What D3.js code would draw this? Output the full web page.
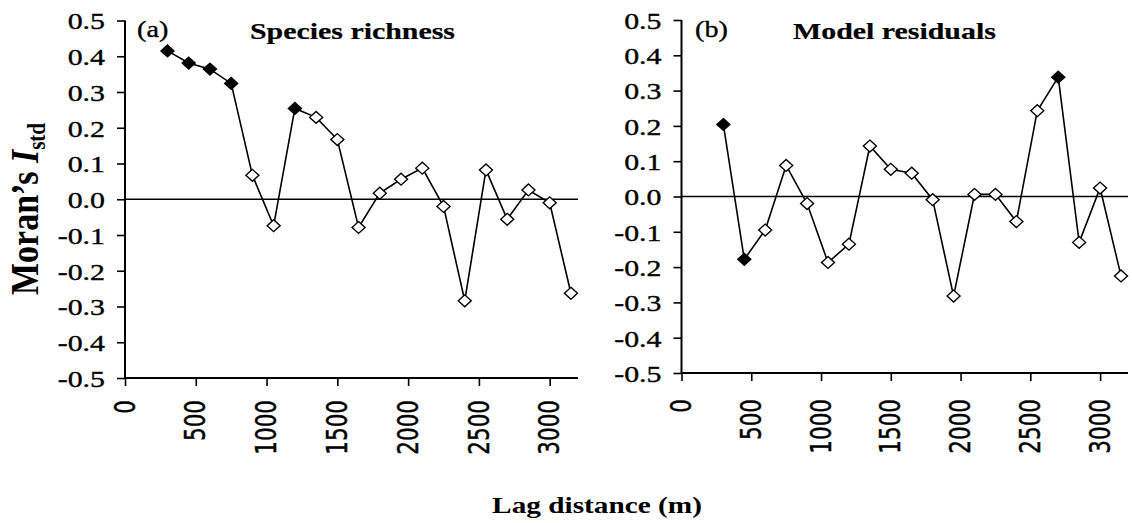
<!DOCTYPE html>
<html>
<head>
<meta charset="utf-8">
<script src="https://cdn.jsdelivr.net/npm/d3@7"></script>
<style>
  html, body { margin: 0; padding: 0; background: #fff; }
  svg { display: block; }
</style>
</head>
<body>
<svg id="chart" width="1132" height="523"></svg>
<script>
// Lag distance classes (m)
const lags = [300, 450, 600, 750, 900, 1050, 1200, 1350, 1500, 1650,
              1800, 1950, 2100, 2250, 2400, 2550, 2700, 2850, 3000, 3150];

// Standardised Moran's I for species richness
const richness = [0.415, 0.381, 0.364, 0.324, 0.067, -0.074, 0.254, 0.229, 0.167, -0.079,
                  0.017, 0.056, 0.087, -0.020, -0.284, 0.082, -0.056, 0.026, -0.010, -0.263];
// Significant classes (filled markers)
const richnessSig = [true, true, true, true, false, false, true, false, false, false,
                     false, false, false, false, false, false, false, false, false, false];

// Standardised Moran's I for model residuals
const residuals = [0.204, -0.178, -0.095, 0.088, -0.020, -0.187, -0.135, 0.143, 0.077, 0.066,
                   -0.009, -0.282, 0.006, 0.006, -0.071, 0.243, 0.338, -0.130, 0.024, -0.225];
const residualsSig = [true, true, false, false, false, false, false, false, false, false,
                      false, false, false, false, false, false, true, false, false, false];

const yTicks = [0.5, 0.4, 0.3, 0.2, 0.1, 0.0, -0.1, -0.2, -0.3, -0.4, -0.5];
const yTickLabels = ["0.5", "0.4", "0.3", "0.2", "0.1", "0.0", "-0.1", "-0.2", "-0.3", "-0.4", "-0.5"];
const xTicks = [0, 500, 1000, 1500, 2000, 2500, 3000];

const svg = d3.select("#chart");
const SX = 1.27;           // horizontal text stretch
const serif = "'Liberation Serif', 'Times New Roman', serif";
const sans = "'DejaVu Sans', Verdana, sans-serif";

function stretchedText(g, x, y, str, opts) {
  const sx = opts.sx || SX;
  const t = g.append("text")
    .attr("transform", `translate(${x},${y}) scale(${sx},1)` + (opts.rotate ? ` rotate(${opts.rotate})` : ""))
    .attr("font-family", opts.family || serif)
    .attr("font-size", opts.size || 23)
    .attr("font-weight", opts.weight || "normal")
    .attr("text-anchor", opts.anchor || "start")
    .attr("fill", "#000")
    .attr("stroke", "#000")
    .attr("stroke-width", opts.weight === "bold" ? 0.2 : 0.35);
  if (opts.baseline) t.attr("dominant-baseline", opts.baseline);
  t.text(str);
  return t;
}

function panel(cfg) {
  const g = svg.append("g");
  const x = d3.scaleLinear().domain([0, 3200]).range([cfg.left, cfg.right]);
  const y = d3.scaleLinear().domain([-0.5, 0.5]).range([cfg.bottom, cfg.top]);

  // zero reference line
  g.append("line")
    .attr("x1", x(0)).attr("x2", x(3200))
    .attr("y1", y(0)).attr("y2", y(0))
    .attr("stroke", "#000").attr("stroke-width", 1.6);

  // y axis
  const yAxis = d3.axisLeft(y).tickValues(yTicks).tickSize(8).tickFormat("");
  const ya = g.append("g").attr("transform", `translate(${x(0)},0)`).call(yAxis);
  ya.select(".domain").attr("stroke-width", 2).attr("d", `M-0,${y(0.5)}V${y(-0.5)}`);
  ya.selectAll(".tick line").attr("stroke-width", 1.6);
  yTicks.forEach((v, i) => {
    stretchedText(g, x(0) - 20, y(v) + 1, yTickLabels[i], {anchor: "end", baseline: "central", size: 23.5});
  });

  // x axis
  const xAxis = d3.axisBottom(x).tickValues(xTicks).tickSize(8).tickFormat("");
  const xa = g.append("g").attr("transform", `translate(0,${y(-0.5)})`).call(xAxis);
  xa.select(".domain").attr("stroke-width", 2.2).attr("d", `M${x(0)},0H${x(3200)}`);
  xa.selectAll(".tick line").attr("stroke-width", 1.6);
  xTicks.forEach(v => {
    stretchedText(g, x(v), cfg.xLabelTop, String(v),
      {anchor: "end", baseline: "central", size: 21.5, family: sans, rotate: -90, sx: 1.33});
  });

  // series line
  const line = d3.line().x((d, i) => x(lags[i])).y(d => y(d));
  g.append("path").datum(cfg.values)
    .attr("d", line).attr("fill", "none")
    .attr("stroke", "#000").attr("stroke-width", 1.6);

  // diamond markers
  const diamond = d3.symbol().type(d3.symbolDiamond2).size(90);
  g.selectAll("path.mk").data(cfg.values).join("path")
    .attr("class", "mk")
    .attr("d", diamond)
    .attr("transform", (d, i) => `translate(${x(lags[i])},${y(d)}) scale(1.1,1)`)
    .attr("fill", (d, i) => cfg.sig[i] ? "#000" : "#fff")
    .attr("stroke", "#000").attr("stroke-width", 1.3);

  // panel tag and title
  stretchedText(g, cfg.tagX, 37, cfg.tag, {size: 23.5, sx: 1.2});
  stretchedText(g, cfg.titleX, 39, cfg.title, {size: 23, weight: "bold", sx: 1.3});
}

panel({left: 125, right: 578, top: 20.5, bottom: 378, xLabelTop: 400,
       values: richness, sig: richnessSig,
       tag: "(a)", tagX: 137, title: "Species richness", titleX: 250});
panel({left: 681.5, right: 1128, top: 20, bottom: 373, xLabelTop: 399,
       values: residuals, sig: residualsSig,
       tag: "(b)", tagX: 695, title: "Model residuals", titleX: 793});

// y axis title
const yt = svg.append("text")
  .attr("transform", `translate(38,209) scale(1.2,1) rotate(-90)`)
  .attr("font-family", serif).attr("font-size", 34).attr("font-weight", "bold")
  .attr("text-anchor", "middle");
yt.append("tspan").text("Moran\u2019s ");
yt.append("tspan").attr("font-style", "italic").text("I");
yt.append("tspan").attr("font-size", 21).attr("dy", 6).text("std");

// x axis title
svg.append("text")
  .attr("transform", `translate(597,513) scale(1.22,1)`)
  .attr("font-family", serif).attr("font-size", 24).attr("font-weight", "bold")
  .attr("text-anchor", "middle")
  .text("Lag distance (m)");
</script>
</body>
</html>
